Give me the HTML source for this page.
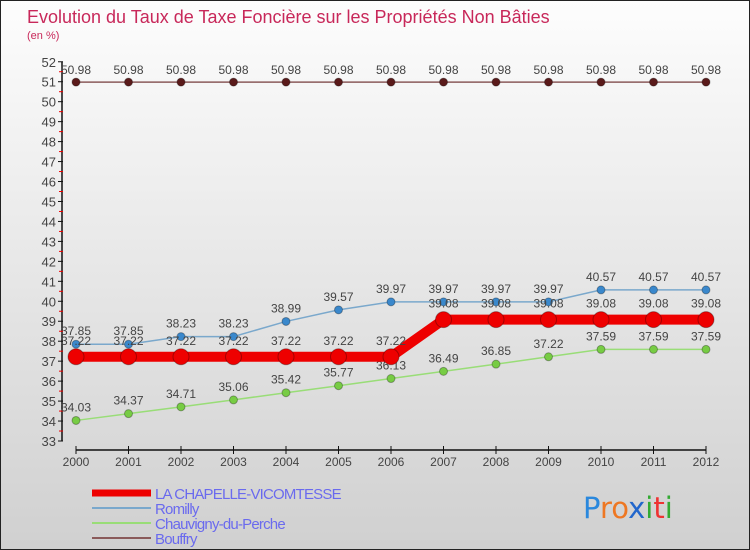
<!DOCTYPE html>
<html><head><meta charset="utf-8"><style>
body{margin:0;width:750px;height:550px;overflow:hidden;font-family:"Liberation Sans",sans-serif}
#wrap{position:relative;width:748px;height:548px;border:1px solid #222;background:linear-gradient(#fdfdfd,#d0d0d0)}
</style></head><body>
<div id="wrap">
<svg id="chart" width="748" height="548" style="position:absolute;left:0;top:0"></svg>
</div>
<script>
const years=[2000,2001,2002,2003,2004,2005,2006,2007,2008,2009,2010,2011,2012];
const chapelle=[37.22,37.22,37.22,37.22,37.22,37.22,37.22,39.08,39.08,39.08,39.08,39.08,39.08];
const romilly=[37.85,37.85,38.23,38.23,38.99,39.57,39.97,39.97,39.97,39.97,40.57,40.57,40.57];
const chauvigny=[34.03,34.37,34.71,35.06,35.42,35.77,36.13,36.49,36.85,37.22,37.59,37.59,37.59];
const bouffry=[50.98,50.98,50.98,50.98,50.98,50.98,50.98,50.98,50.98,50.98,50.98,50.98,50.98];
const yTicks=[33,34,35,36,37,38,39,40,41,42,43,44,45,46,47,48,49,50,51,52];
const NS="http://www.w3.org/2000/svg";
const svg=document.getElementById('chart');
const X=i=>75+i*52.5;
const Y=v=>440-(v-33)*19.96;
function mk(t,a,p){const e=document.createElementNS(NS,t);for(const k in a)e.setAttribute(k,a[k]);(p||svg).appendChild(e);return e;}
function txt(x,y,s,sz,fill,anchor){const e=mk('text',{x:x,y:y,'font-size':sz,fill:fill,'text-anchor':anchor||'middle','font-family':'Liberation Sans, sans-serif'});e.textContent=s;return e;}
let t=txt(26,22,'Evolution du Taux de Taxe Foncière sur les Propriétés Non Bâties',18,'#c8285a','start');


t=txt(26,38,'(en %)',11,'#c8285a','start');


let ax=mk('line',{x1:61,y1:Y(52),x2:61,y2:Y(33),stroke:'#111','stroke-width':1.5});


yTicks.forEach(v=>{
  mk('line',{x1:57,y1:Y(v),x2:62,y2:Y(v),stroke:'#111'});
  if(v<52)mk('line',{x1:58,y1:Y(v+0.5),x2:62,y2:Y(v+0.5),stroke:'#e00'});
  const l=txt(55,Y(v)+5,String(v),13,'#444','end');
  
  
});
let xa=mk('line',{x1:X(0),y1:449,x2:X(12),y2:449,stroke:'#111','stroke-width':1.5});


years.forEach((yr,i)=>{
  mk('line',{x1:X(i),y1:445,x2:X(i),y2:453,stroke:'#111'});
  const l=txt(X(i),465,String(yr),12,'#444');
  
  
});
function series(vals,color,dot,w,r,name,labelDy){
  const g=mk('g',{});
  
  
  mk('polyline',{points:vals.map((v,i)=>X(i)+','+Y(v)).join(' '),fill:'none',stroke:color,'stroke-width':w},g);
  vals.forEach((v,i)=>{
    const c=mk('circle',{cx:X(i),cy:Y(v),r:r,fill:dot,stroke:'rgba(0,0,0,0.3)'},g);
    
    
    const l=txt(X(i),Y(v)+labelDy,v.toFixed(2),12,'#444');
    
    
    g.appendChild(l);
  });
}
series(bouffry,'#8a5a5a','#5a1a1a',1.5,4,'bouffry',-8);
series(chauvigny,'#99dd77','#77cc44',1.5,4,'chauvigny',-9);
series(romilly,'#7aa8cc','#3a88cc',1.5,4,'romilly',-9);
series(chapelle,'#ee0000','#ee0000',10,8,'la-chapelle',-12);
const leg=[['LA CHAPELLE-VICOMTESSE','#ee0000',7],['Romilly','#7aa8cc',2],['Chauvigny-du-Perche','#99dd77',2],['Bouffry','#8a5a5a',2]];
leg.forEach((e,i)=>{
  const g=mk('g',{});
  
  
  const y=492+i*15;
  mk('line',{x1:91,y1:y,x2:150,y2:y,stroke:e[1],'stroke-width':e[2]},g);
  const l=txt(154,y+6,e[0],15,'#6a6aee','start');
  l.setAttribute('letter-spacing','-0.8');
  g.appendChild(l);
});
const lg=mk('text',{x:582,y:517,'font-size':29,'font-family':'DejaVu Sans, sans-serif'});


[['P','#2a88dd'],['ro','#ee7722'],['x','#2266cc'],['i','#33aa33'],['t','#ee3333'],['i','#33aa33']].forEach(p=>{const s=mk('tspan',{fill:p[1]},lg);s.textContent=p[0];});
</script>
</body></html>
